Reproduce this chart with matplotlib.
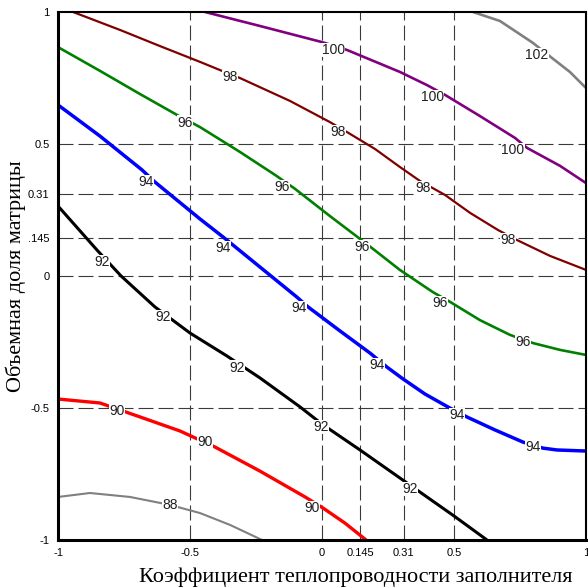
import matplotlib
matplotlib.use("Agg")
import matplotlib.pyplot as plt

plt.rcParams.update({
    "font.family": "Liberation Sans",
    "lines.scale_dashes": False,
})

# contour lines (x, y in coded units)
x88 = [-1.0, -0.879, -0.727, -0.576, -0.462, -0.348, -0.227]
y88 = [-0.837, -0.822, -0.837, -0.867, -0.898, -0.943, -1.0]

x90 = [-1.0, -0.841, -0.689, -0.538, -0.405, -0.235, -0.064, 0.004, 0.087, 0.167]
y90 = [-0.466, -0.481, -0.534, -0.587, -0.648, -0.739, -0.837, -0.879, -0.936, -1.0]

x92 = [-1.0, -0.852, -0.761, -0.633, -0.5, -0.360, -0.235, -0.083, 0.0,
       0.144, 0.295, 0.5, 0.625]
y92 = [0.265, 0.098, 0.0, -0.117, -0.216, -0.303, -0.386, -0.496, -0.561,
       -0.659, -0.765, -0.909, -1.0]

x94 = [-1.0, -0.841, -0.682, -0.633, -0.462, -0.375, -0.235, -0.095, -0.053, 0.068,
       0.182, 0.246, 0.307, 0.390, 0.477, 0.549, 0.655, 0.761, 0.837, 0.890, 1.0]
y94 = [0.648, 0.530, 0.402, 0.356, 0.216, 0.148, 0.034, -0.080, -0.117, -0.208,
       -0.292, -0.345, -0.390, -0.447, -0.496, -0.534, -0.583, -0.629, -0.652, -0.659,
       -0.663]

x96 = [-1.0, -0.841, -0.689, -0.549, -0.462, -0.311, -0.178, -0.102, 0.030, 0.125,
       0.189, 0.295, 0.420, 0.485, 0.598, 0.712, 0.799, 0.902, 1.0]
y96 = [0.867, 0.777, 0.689, 0.610, 0.564, 0.470, 0.383, 0.330, 0.227, 0.155,
       0.106, 0.023, -0.061, -0.098, -0.167, -0.223, -0.254, -0.280, -0.299]

x98 = [-0.943, -0.765, -0.614, -0.462, -0.379, -0.311, -0.121, 0.030, 0.095, 0.201,
       0.295, 0.371, 0.466, 0.561, 0.667, 0.739, 0.864, 1.0]
y98 = [1.0, 0.932, 0.871, 0.811, 0.777, 0.750, 0.663, 0.583, 0.545, 0.481,
       0.413, 0.360, 0.307, 0.239, 0.174, 0.136, 0.076, 0.023]

x100 = [-0.443, -0.235, 0.0, 0.095, 0.295, 0.398, 0.466, 0.598, 0.731, 0.777, 0.902, 1.0]
y100 = [1.0, 0.947, 0.886, 0.856, 0.773, 0.723, 0.686, 0.606, 0.523, 0.485, 0.417, 0.352]

x102 = [0.572, 0.674, 0.799, 0.871, 0.939, 1.0]
y102 = [1.0, 0.966, 0.883, 0.826, 0.773, 0.712]

# inline label positions
lab88 = [(-0.576, -0.867)]
lab90 = [(-0.777, -0.511), (-0.443, -0.629), (-0.038, -0.879)]
lab92 = [(-0.833, 0.053), (-0.602, -0.155), (-0.322, -0.348), (-0.004, -0.572), (0.333, -0.807)]
lab94 = [(-0.667, 0.356), (-0.375, 0.106), (-0.087, -0.121), (0.208, -0.337),
         (0.511, -0.527), (0.799, -0.648)]
lab96 = [(-0.519, 0.580), (-0.152, 0.337), (0.152, 0.110), (0.447, -0.102), (0.761, -0.250)]
lab98 = [(-0.348, 0.754), (0.061, 0.545), (0.383, 0.333), (0.705, 0.136)]
lab100 = [(0.042, 0.856), (0.417, 0.678), (0.723, 0.477)]
lab102 = [(0.814, 0.837)]

ticks = [-1, -0.5, 0, 0.145, 0.31, 0.5, 1]
xtick_labels = ["-1", "-0.5", "0", "0.145", "0.31", "0.5", "1"]
ytick_labels = ["-1", "-0.5", "0", ".145", "0.31", "0.5", "1"]
grid_pos = [-0.5, 0, 0.145, 0.31, 0.5]

curves = [
    (88, x88, y88, lab88, "#808080", 1.5),
    (90, x90, y90, lab90, "#ff0000", 2.4),
    (92, x92, y92, lab92, "#000000", 2.2),
    (94, x94, y94, lab94, "#0000ff", 2.5),
    (96, x96, y96, lab96, "#008000", 1.9),
    (98, x98, y98, lab98, "#800000", 1.6),
    (100, x100, y100, lab100, "#800080", 1.9),
    (102, x102, y102, lab102, "#808080", 1.9),
]

fig = plt.figure(figsize=(5.88, 5.88), dpi=100)
ax = fig.add_axes([58 / 588, 48 / 588, 528 / 588, 528 / 588])

for g in grid_pos:
    ax.axvline(g, color="#3a3a3a", lw=0.8, dashes=(10.8, 3.6), zorder=1)
    ax.axhline(g, color="#3a3a3a", lw=0.8, dashes=(10.8, 3.6), zorder=1)

for level, xs, ys, labs, col, lw in curves:
    ax.plot(xs, ys, color=col, lw=lw, solid_capstyle="butt", zorder=2)
    for lx, ly in labs:
        ax.text(lx, ly, str(level), ha="center", va="center", fontsize=10,
                color="#202020", zorder=3,
                bbox=dict(facecolor="white", edgecolor="none", pad=0.3))

ax.set_xlim(-1, 1)
ax.set_ylim(-1, 1)
ax.set_xticks(ticks)
ax.set_xticklabels(xtick_labels)
ax.set_yticks(ticks)
ax.set_yticklabels(ytick_labels)
ax.tick_params(length=0, labelsize=8, pad=6)

for side in ["left", "bottom"]:
    ax.spines[side].set_linewidth(2.2)
for side in ["top", "right"]:
    ax.spines[side].set_linewidth(1.5)

fig.text(356 / 588, 6 / 588, "Коэффициент теплопроводности заполнителя",
         family="Liberation Serif", fontsize=16, ha="center", va="baseline")
fig.text(16 / 588, 1 - 276 / 588, "Объемная доля матрицы",
         family="Liberation Serif", fontsize=16, ha="center", va="center",
         rotation=90)

fig.savefig("out.png", dpi=100)
